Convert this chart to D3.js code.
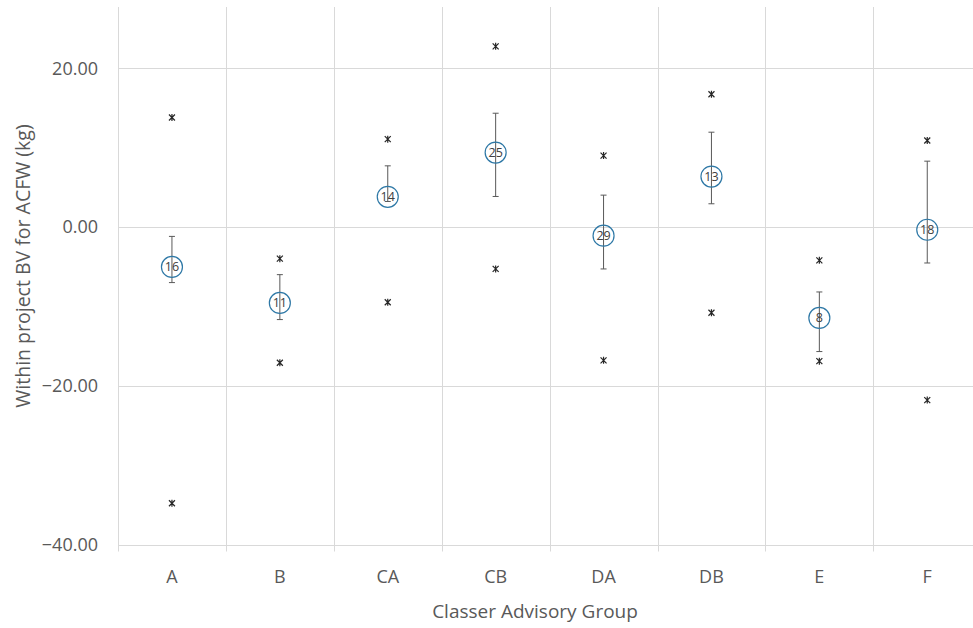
<!DOCTYPE html>
<html>
<head>
<meta charset="utf-8">
<script src="https://cdn.jsdelivr.net/npm/d3@7"></script>
<style>
  body { margin: 0; background: #fff; }
  text { font-family: "Open Sans", "Noto Sans", sans-serif; }
</style>
</head>
<body>
<div id="chart"></div>
<script>
// data -----------------------------------------------------------------
const groups   = ['A', 'B', 'CA', 'CB', 'DA', 'DB', 'E', 'F'];
const means    = [-5.03, -9.56, 3.81, 9.38, -1.09, 6.36, -11.45, -0.34];
const errHigh  = [-1.18, -6.0, 7.71, 14.34, 4.02, 11.95, -8.18, 8.3];
const errLow   = [-7.0, -11.66, 3.22, 3.85, -5.28, 2.93, -15.69, -4.53];
const maxVals  = [13.8, -3.99, 11.07, 22.77, 9.0, 16.73, -4.2, 10.9];
const minVals  = [-34.8, -17.1, -9.48, -5.28, -16.8, -10.8, -16.9, -21.8];
const counts   = [16, 11, 14, 25, 29, 13, 8, 18];
const yTicks   = [20, 0, -20, -40];

const width = 973, height = 628;
const left = 118, plotTop = 7, step = 107.9;

const svg = d3.select('#chart').append('svg')
  .attr('width', width)
  .attr('height', height);

// scales -----------------------------------------------------------------
const x = d3.scaleBand()
  .domain(groups)
  .range([left, left + step * groups.length])
  .padding(0);
const y = d3.scaleLinear()
  .domain([-40, 20])
  .range([544.5, 68.3]);

// gridlines --------------------------------------------------------------
const grid = svg.append('g');
grid.selectAll('line.h')
  .data(yTicks)
  .enter().append('line')
  .attr('x1', left).attr('x2', width)
  .attr('y1', d => Math.round(y(d)) + 0.5)
  .attr('y2', d => Math.round(y(d)) + 0.5)
  .attr('stroke', '#d9d9d9')
  .attr('stroke-width', 1);
grid.selectAll('line.v')
  .data(groups)
  .enter().append('line')
  .attr('x1', d => Math.round(x(d)) + 0.5)
  .attr('x2', d => Math.round(x(d)) + 0.5)
  .attr('y1', plotTop)
  .attr('y2', y(-40) + 7)
  .attr('stroke', '#d9d9d9')
  .attr('stroke-width', 1);

// axes labels -------------------------------------------------------------
const axisY = d3.axisLeft(y).tickValues(yTicks).tickSize(0).tickPadding(20)
  .tickFormat(d3.format('.2f'));
svg.append('g')
  .attr('transform', 'translate(' + left + ',0)')
  .call(axisY)
  .call(g => g.select('.domain').remove())
  .selectAll('text')
  .attr('font-size', '18px')
  .attr('fill', '#595959')
  .attr('font-family', '"Open Sans", sans-serif');

const axisX = d3.axisBottom(x).tickSize(0).tickPadding(0);
svg.append('g')
  .attr('transform', 'translate(0,570)')
  .call(axisX)
  .call(g => g.select('.domain').remove())
  .selectAll('text')
  .attr('font-size', '18px')
  .attr('fill', '#595959')
  .attr('font-family', '"Open Sans", sans-serif');

svg.append('text')
  .attr('x', 535).attr('y', 618)
  .attr('text-anchor', 'middle')
  .attr('font-size', '19px')
  .attr('fill', '#595959')
  .text('Classer Advisory Group');

svg.append('text')
  .attr('transform', 'translate(30,266) rotate(-90)')
  .attr('text-anchor', 'middle')
  .attr('font-size', '19.5px')
  .attr('fill', '#595959')
  .text('Within project BV for ACFW (kg)');

// data rows --------------------------------------------------------------
const rows = groups.map((g, i) => ({
  g: g, mean: means[i], hi: errHigh[i], lo: errLow[i],
  max: maxVals[i], min: minVals[i], n: counts[i]
}));
const cx = d => x(d.g) + x.bandwidth() / 2;

// error bars
const eb = svg.append('g').attr('stroke', '#595959').attr('stroke-width', 1);
eb.selectAll('line.bar').data(rows).enter().append('line')
  .attr('x1', cx).attr('x2', cx)
  .attr('y1', d => y(d.hi)).attr('y2', d => y(d.lo));
eb.selectAll('line.capHi').data(rows).enter().append('line')
  .attr('x1', d => cx(d) - 3).attr('x2', d => cx(d) + 3)
  .attr('y1', d => y(d.hi)).attr('y2', d => y(d.hi));
eb.selectAll('line.capLo').data(rows).enter().append('line')
  .attr('x1', d => cx(d) - 3).attr('x2', d => cx(d) + 3)
  .attr('y1', d => y(d.lo)).attr('y2', d => y(d.lo));

// star markers for max / min
const star = 'M-3,-3L3,3M-3,3L3,-3M0,-3.5L0,3.5';
const pts = [];
rows.forEach(d => { pts.push({ x: cx(d), v: d.max }); pts.push({ x: cx(d), v: d.min }); });
svg.append('g').selectAll('path').data(pts).enter().append('path')
  .attr('transform', d => 'translate(' + d.x + ',' + y(d.v) + ')')
  .attr('d', star)
  .attr('fill', 'none')
  .attr('stroke', '#262626')
  .attr('stroke-width', 1.2);

// mean circles with count labels
svg.append('g').selectAll('circle').data(rows).enter().append('circle')
  .attr('cx', cx)
  .attr('cy', d => y(d.mean))
  .attr('r', 10.5)
  .attr('fill', 'none')
  .attr('stroke', '#2e78a6')
  .attr('stroke-width', 1.2);
svg.append('g').selectAll('text').data(rows).enter().append('text')
  .attr('x', cx)
  .attr('y', d => y(d.mean))
  .attr('dy', '0.36em')
  .attr('text-anchor', 'middle')
  .attr('font-size', '12.5px')
  .attr('fill', '#404040')
  .text(d => d.n);
</script>
</body>
</html>
